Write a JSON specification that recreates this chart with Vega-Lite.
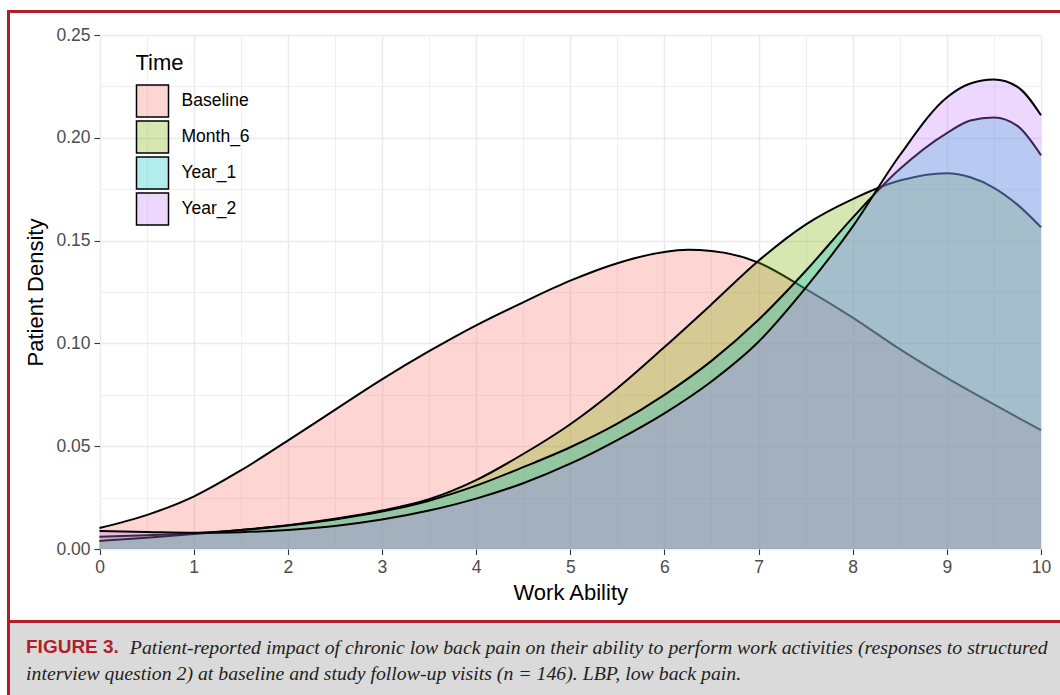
{
  "$schema": "https://vega.github.io/schema/vega-lite/v6.json",
  "padding": {"left": 7, "top": 10, "right": 0, "bottom": 0},
  "background": "white",
  "spacing": 0,
  "config": {
    "font": "Liberation Sans",
    "view": {"stroke": null},
    "axis": {"labelFont": "Liberation Sans", "titleFont": "Liberation Sans"}
  },
  "hconcat": [
    {
      "width": 3,
      "height": 685,
      "view": {"fill": "#b11e2b", "stroke": null},
      "data": {"values": []},
      "mark": "point"
    },
    {
      "spacing": 0,
      "vconcat": [
        {
          "width": 1050,
          "height": 3,
          "view": {"fill": "#b11e2b", "stroke": null},
          "data": {"values": []},
          "mark": "point"
        },
        {
          "width": 1050,
          "height": 607,
          "view": {"fill": "white", "stroke": null},
          "data": {"values": [
            {"Time": "Baseline", "WorkAbility": 0, "Density": 0.0102},
            {"Time": "Baseline", "WorkAbility": 0.5, "Density": 0.0165},
            {"Time": "Baseline", "WorkAbility": 1, "Density": 0.0255},
            {"Time": "Baseline", "WorkAbility": 1.5, "Density": 0.0382},
            {"Time": "Baseline", "WorkAbility": 2, "Density": 0.0527},
            {"Time": "Baseline", "WorkAbility": 2.5, "Density": 0.0677},
            {"Time": "Baseline", "WorkAbility": 3, "Density": 0.0825},
            {"Time": "Baseline", "WorkAbility": 3.5, "Density": 0.0962},
            {"Time": "Baseline", "WorkAbility": 4, "Density": 0.1088},
            {"Time": "Baseline", "WorkAbility": 4.5, "Density": 0.12},
            {"Time": "Baseline", "WorkAbility": 5, "Density": 0.1305},
            {"Time": "Baseline", "WorkAbility": 5.5, "Density": 0.139},
            {"Time": "Baseline", "WorkAbility": 6, "Density": 0.1445},
            {"Time": "Baseline", "WorkAbility": 6.25, "Density": 0.1455},
            {"Time": "Baseline", "WorkAbility": 6.5, "Density": 0.145},
            {"Time": "Baseline", "WorkAbility": 7, "Density": 0.1393},
            {"Time": "Baseline", "WorkAbility": 7.5, "Density": 0.1265},
            {"Time": "Baseline", "WorkAbility": 8, "Density": 0.1125},
            {"Time": "Baseline", "WorkAbility": 8.5, "Density": 0.0972},
            {"Time": "Baseline", "WorkAbility": 9, "Density": 0.0832},
            {"Time": "Baseline", "WorkAbility": 9.5, "Density": 0.0703},
            {"Time": "Baseline", "WorkAbility": 10, "Density": 0.0578},
            {"Time": "Month_6", "WorkAbility": 0, "Density": 0.006},
            {"Time": "Month_6", "WorkAbility": 0.5, "Density": 0.0067},
            {"Time": "Month_6", "WorkAbility": 1, "Density": 0.0077},
            {"Time": "Month_6", "WorkAbility": 1.5, "Density": 0.0093},
            {"Time": "Month_6", "WorkAbility": 2, "Density": 0.0116},
            {"Time": "Month_6", "WorkAbility": 2.5, "Density": 0.0147},
            {"Time": "Month_6", "WorkAbility": 3, "Density": 0.0187},
            {"Time": "Month_6", "WorkAbility": 3.5, "Density": 0.0242},
            {"Time": "Month_6", "WorkAbility": 4, "Density": 0.0335},
            {"Time": "Month_6", "WorkAbility": 4.5, "Density": 0.0462},
            {"Time": "Month_6", "WorkAbility": 5, "Density": 0.0607},
            {"Time": "Month_6", "WorkAbility": 5.5, "Density": 0.0782},
            {"Time": "Month_6", "WorkAbility": 6, "Density": 0.0982},
            {"Time": "Month_6", "WorkAbility": 6.5, "Density": 0.119},
            {"Time": "Month_6", "WorkAbility": 7, "Density": 0.1402},
            {"Time": "Month_6", "WorkAbility": 7.5, "Density": 0.1578},
            {"Time": "Month_6", "WorkAbility": 8, "Density": 0.1702},
            {"Time": "Month_6", "WorkAbility": 8.5, "Density": 0.1792},
            {"Time": "Month_6", "WorkAbility": 9, "Density": 0.1828},
            {"Time": "Month_6", "WorkAbility": 9.25, "Density": 0.1808},
            {"Time": "Month_6", "WorkAbility": 9.5, "Density": 0.1757},
            {"Time": "Month_6", "WorkAbility": 9.75, "Density": 0.1675},
            {"Time": "Month_6", "WorkAbility": 10, "Density": 0.1565},
            {"Time": "Year_1", "WorkAbility": 0, "Density": 0.0039},
            {"Time": "Year_1", "WorkAbility": 0.5, "Density": 0.0055},
            {"Time": "Year_1", "WorkAbility": 1, "Density": 0.0073},
            {"Time": "Year_1", "WorkAbility": 1.5, "Density": 0.0092},
            {"Time": "Year_1", "WorkAbility": 2, "Density": 0.0114},
            {"Time": "Year_1", "WorkAbility": 2.5, "Density": 0.0144},
            {"Time": "Year_1", "WorkAbility": 3, "Density": 0.0182},
            {"Time": "Year_1", "WorkAbility": 3.5, "Density": 0.0235},
            {"Time": "Year_1", "WorkAbility": 4, "Density": 0.0308},
            {"Time": "Year_1", "WorkAbility": 4.5, "Density": 0.0398},
            {"Time": "Year_1", "WorkAbility": 5, "Density": 0.0495},
            {"Time": "Year_1", "WorkAbility": 5.5, "Density": 0.061},
            {"Time": "Year_1", "WorkAbility": 6, "Density": 0.075},
            {"Time": "Year_1", "WorkAbility": 6.5, "Density": 0.0915},
            {"Time": "Year_1", "WorkAbility": 7, "Density": 0.1115},
            {"Time": "Year_1", "WorkAbility": 7.5, "Density": 0.1352},
            {"Time": "Year_1", "WorkAbility": 8, "Density": 0.1612},
            {"Time": "Year_1", "WorkAbility": 8.5, "Density": 0.1848},
            {"Time": "Year_1", "WorkAbility": 9, "Density": 0.2023},
            {"Time": "Year_1", "WorkAbility": 9.25, "Density": 0.2084},
            {"Time": "Year_1", "WorkAbility": 9.5, "Density": 0.2099},
            {"Time": "Year_1", "WorkAbility": 9.75, "Density": 0.2058},
            {"Time": "Year_1", "WorkAbility": 10, "Density": 0.1915},
            {"Time": "Year_2", "WorkAbility": 0, "Density": 0.0087},
            {"Time": "Year_2", "WorkAbility": 0.5, "Density": 0.0083},
            {"Time": "Year_2", "WorkAbility": 1, "Density": 0.0079},
            {"Time": "Year_2", "WorkAbility": 1.5, "Density": 0.0082},
            {"Time": "Year_2", "WorkAbility": 2, "Density": 0.0093},
            {"Time": "Year_2", "WorkAbility": 2.5, "Density": 0.0112},
            {"Time": "Year_2", "WorkAbility": 3, "Density": 0.0143},
            {"Time": "Year_2", "WorkAbility": 3.5, "Density": 0.0187},
            {"Time": "Year_2", "WorkAbility": 4, "Density": 0.0245},
            {"Time": "Year_2", "WorkAbility": 4.5, "Density": 0.032},
            {"Time": "Year_2", "WorkAbility": 5, "Density": 0.0415},
            {"Time": "Year_2", "WorkAbility": 5.5, "Density": 0.053},
            {"Time": "Year_2", "WorkAbility": 6, "Density": 0.066},
            {"Time": "Year_2", "WorkAbility": 6.5, "Density": 0.0815},
            {"Time": "Year_2", "WorkAbility": 7, "Density": 0.1008},
            {"Time": "Year_2", "WorkAbility": 7.5, "Density": 0.127},
            {"Time": "Year_2", "WorkAbility": 8, "Density": 0.1568},
            {"Time": "Year_2", "WorkAbility": 8.5, "Density": 0.1915},
            {"Time": "Year_2", "WorkAbility": 9, "Density": 0.2196},
            {"Time": "Year_2", "WorkAbility": 9.25, "Density": 0.2264},
            {"Time": "Year_2", "WorkAbility": 9.5, "Density": 0.2283},
            {"Time": "Year_2", "WorkAbility": 9.75, "Density": 0.2248},
            {"Time": "Year_2", "WorkAbility": 10, "Density": 0.211}
          ]},
          "resolve": {"axis": {"x": "independent", "y": "independent"}},
          "encoding": {
            "x": {"field": "WorkAbility", "type": "quantitative",
                  "scale": {"domain": [0, 10], "range": [89.5, 1031], "nice": false, "zero": false},
                  "axis": null},
            "y": {"field": "Density", "type": "quantitative",
                  "scale": {"domain": [0, 0.25], "range": [536, 22], "nice": false, "zero": false},
                  "axis": null}
          },
          "layer": [
            {
              "transform": [{"filter": "datum.Time === 'Baseline'"}],
              "mark": {"type": "area", "interpolate": "monotone", "fillOpacity": 0.3},
              "encoding": {
                "x": {"field": "WorkAbility", "type": "quantitative",
                      "scale": {"domain": [0, 10], "range": [89.5, 1031], "nice": false, "zero": false},
                      "axis": {
                        "title": "Work Ability", "orient": "bottom", "offset": -71,
                        "values": [0, 1, 2, 3, 4, 5, 6, 7, 8, 9, 10], "format": "d",
                        "domain": false, "grid": false,
                        "ticks": true, "tickColor": "#333333", "tickSize": 5.5, "tickWidth": 1.1,
                        "labelFontSize": 17.5, "labelColor": "#4d4d4d", "labelPadding": 4,
                        "labelOverlap": false, "labelFlush": false,
                        "titleFontSize": 22, "titleFontWeight": "normal", "titleColor": "black", "titlePadding": 6
                      }},
                "y": {"field": "Density", "type": "quantitative",
                      "scale": {"domain": [0, 0.25], "range": [536, 22], "nice": false, "zero": false},
                      "axis": {
                        "title": "Patient Density", "orient": "left", "offset": -89.5,
                        "values": [0, 0.05, 0.1, 0.15, 0.2, 0.25], "format": ".2f",
                        "domain": false, "grid": true, "gridColor": "#ebebeb", "gridWidth": 1.5,
                        "ticks": true, "tickColor": "#333333", "tickSize": 5.5, "tickWidth": 1.1,
                        "labelFontSize": 17.5, "labelColor": "#4d4d4d", "labelPadding": 4,
                        "labelOverlap": false, "labelFlush": false,
                        "titleFontSize": 22, "titleFontWeight": "normal", "titleColor": "black", "titlePadding": 8
                      }},
                "fill": {"field": "Time", "type": "nominal",
                         "scale": {"domain": ["Baseline", "Month_6", "Year_1", "Year_2"], "range": ["#F8766D", "#7CAE00", "#00BFC4", "#C77CFF"]},
                         "legend": {"title": "Time", "orient": "none", "legendX": 128.5, "legendY": 43, "padding": 0,
                                    "symbolType": "square", "symbolSize": 1024, "symbolStrokeColor": "black", "symbolStrokeWidth": 1.5,
                                    "labelFont": "Liberation Sans", "labelFontSize": 17.5, "labelColor": "black", "labelOffset": 12,
                                    "titleFont": "Liberation Sans", "titleFontSize": 22, "titleFontWeight": "normal", "titleColor": "black",
                                    "titlePadding": 9, "rowPadding": -2.3,
                                    "encoding": {"symbols": {"fillOpacity": {"value": 0.3}}}}}
              }
            },
            {
              "transform": [{"filter": "datum.Time === 'Baseline'"}],
              "mark": {"type": "line", "interpolate": "monotone", "color": "black", "strokeWidth": 2},
              "encoding": {
                "x": {"field": "WorkAbility", "type": "quantitative",
                      "scale": {"domain": [0, 10], "range": [89.5, 1031], "nice": false, "zero": false},
                      "axis": {
                        "title": null, "orient": "top", "offset": -22,
                        "values": [0, 0.5, 1, 1.5, 2, 2.5, 3, 3.5, 4, 4.5, 5, 5.5, 6, 6.5, 7, 7.5, 8, 8.5, 9, 9.5, 10],
                        "domain": false, "ticks": false, "labels": false,
                        "grid": true, "gridColor": "#ebebeb",
                        "gridWidth": {"condition": {"test": "datum.value % 1 !== 0", "value": 0.8}, "value": 1.5}
                      }},
                "y": {"field": "Density", "type": "quantitative",
                      "scale": {"domain": [0, 0.25], "range": [536, 22], "nice": false, "zero": false},
                      "axis": {
                        "title": null, "orient": "left", "offset": -89.5,
                        "values": [0.025, 0.075, 0.125, 0.175, 0.225],
                        "domain": false, "ticks": false, "labels": false,
                        "grid": true, "gridColor": "#ebebeb", "gridWidth": 0.8
                      }}
              }
            },
            {
              "transform": [{"filter": "datum.Time === 'Month_6'"}],
              "mark": {"type": "area", "interpolate": "monotone", "fillOpacity": 0.3},
              "encoding": {
                "fill": {"field": "Time", "type": "nominal",
                         "scale": {"domain": ["Baseline", "Month_6", "Year_1", "Year_2"], "range": ["#F8766D", "#7CAE00", "#00BFC4", "#C77CFF"]},
                         "legend": {"title": "Time", "orient": "none", "legendX": 128.5, "legendY": 43, "padding": 0,
                                    "symbolType": "square", "symbolSize": 1024, "symbolStrokeColor": "black", "symbolStrokeWidth": 1.5,
                                    "labelFont": "Liberation Sans", "labelFontSize": 17.5, "labelColor": "black", "labelOffset": 12,
                                    "titleFont": "Liberation Sans", "titleFontSize": 22, "titleFontWeight": "normal", "titleColor": "black",
                                    "titlePadding": 9, "rowPadding": -2.3,
                                    "encoding": {"symbols": {"fillOpacity": {"value": 0.3}}}}}
              }
            },
            {
              "transform": [{"filter": "datum.Time === 'Month_6'"}],
              "mark": {"type": "line", "interpolate": "monotone", "color": "black", "strokeWidth": 2}
            },
            {
              "transform": [{"filter": "datum.Time === 'Year_1'"}],
              "mark": {"type": "area", "interpolate": "monotone", "fillOpacity": 0.3},
              "encoding": {
                "fill": {"field": "Time", "type": "nominal",
                         "scale": {"domain": ["Baseline", "Month_6", "Year_1", "Year_2"], "range": ["#F8766D", "#7CAE00", "#00BFC4", "#C77CFF"]},
                         "legend": {"title": "Time", "orient": "none", "legendX": 128.5, "legendY": 43, "padding": 0,
                                    "symbolType": "square", "symbolSize": 1024, "symbolStrokeColor": "black", "symbolStrokeWidth": 1.5,
                                    "labelFont": "Liberation Sans", "labelFontSize": 17.5, "labelColor": "black", "labelOffset": 12,
                                    "titleFont": "Liberation Sans", "titleFontSize": 22, "titleFontWeight": "normal", "titleColor": "black",
                                    "titlePadding": 9, "rowPadding": -2.3,
                                    "encoding": {"symbols": {"fillOpacity": {"value": 0.3}}}}}
              }
            },
            {
              "transform": [{"filter": "datum.Time === 'Year_1'"}],
              "mark": {"type": "line", "interpolate": "monotone", "color": "black", "strokeWidth": 2}
            },
            {
              "transform": [{"filter": "datum.Time === 'Year_2'"}],
              "mark": {"type": "area", "interpolate": "monotone", "fillOpacity": 0.3},
              "encoding": {
                "fill": {"field": "Time", "type": "nominal",
                         "scale": {"domain": ["Baseline", "Month_6", "Year_1", "Year_2"], "range": ["#F8766D", "#7CAE00", "#00BFC4", "#C77CFF"]},
                         "legend": {"title": "Time", "orient": "none", "legendX": 128.5, "legendY": 43, "padding": 0,
                                    "symbolType": "square", "symbolSize": 1024, "symbolStrokeColor": "black", "symbolStrokeWidth": 1.5,
                                    "labelFont": "Liberation Sans", "labelFontSize": 17.5, "labelColor": "black", "labelOffset": 12,
                                    "titleFont": "Liberation Sans", "titleFontSize": 22, "titleFontWeight": "normal", "titleColor": "black",
                                    "titlePadding": 9, "rowPadding": -2.3,
                                    "encoding": {"symbols": {"fillOpacity": {"value": 0.3}}}}}
              }
            },
            {
              "transform": [{"filter": "datum.Time === 'Year_2'"}],
              "mark": {"type": "line", "interpolate": "monotone", "color": "black", "strokeWidth": 2}
            },
            {
              "data": {"values": [{}]},
              "mark": {"type": "rect", "filled": false, "stroke": "#333333", "strokeWidth": 1.3},
              "encoding": {
                "x": {"datum": 0, "type": "quantitative",
                      "scale": {"domain": [0, 10], "range": [89.5, 1031], "nice": false, "zero": false}, "axis": null},
                "x2": {"datum": 10},
                "y": {"datum": 0, "type": "quantitative",
                      "scale": {"domain": [0, 0.25], "range": [536, 22], "nice": false, "zero": false}, "axis": null},
                "y2": {"datum": 0.25}
              }
            }
          ]
        },
        {
          "width": 1050,
          "height": 3,
          "view": {"fill": "#b11e2b", "stroke": null},
          "data": {"values": []},
          "mark": "point"
        },
        {
          "width": 1050,
          "height": 72,
          "view": {"fill": "#dbdadb", "stroke": null},
          "data": {"values": []},
          "mark": "point",
          "title": {
            "text": "FIGURE 3.",
            "subtitle": [
              "\u200b\u00a0\u00a0\u00a0\u00a0\u00a0\u00a0\u00a0\u00a0\u00a0\u00a0\u00a0\u00a0\u00a0\u00a0\u00a0\u00a0\u00a0\u00a0\u00a0\u00a0\u00a0Patient-reported impact of chronic low back pain on their ability to perform work activities (responses to structured",
              "interview question 2) at baseline and study follow-up visits (n = 146). LBP, low back pain."
            ],
            "orient": "bottom",
            "anchor": "start",
            "frame": "group",
            "offset": -57.5,
            "dx": 16,
            "font": "Liberation Sans",
            "fontSize": 19,
            "fontWeight": "bold",
            "color": "#b11e2b",
            "subtitleFont": "Liberation Serif",
            "subtitleFontSize": 19.8,
            "subtitleFontStyle": "italic",
            "subtitleColor": "#231f20",
            "subtitlePadding": -19,
            "subtitleLineHeight": 26
          }
        }
      ]
    }
  ]
}
